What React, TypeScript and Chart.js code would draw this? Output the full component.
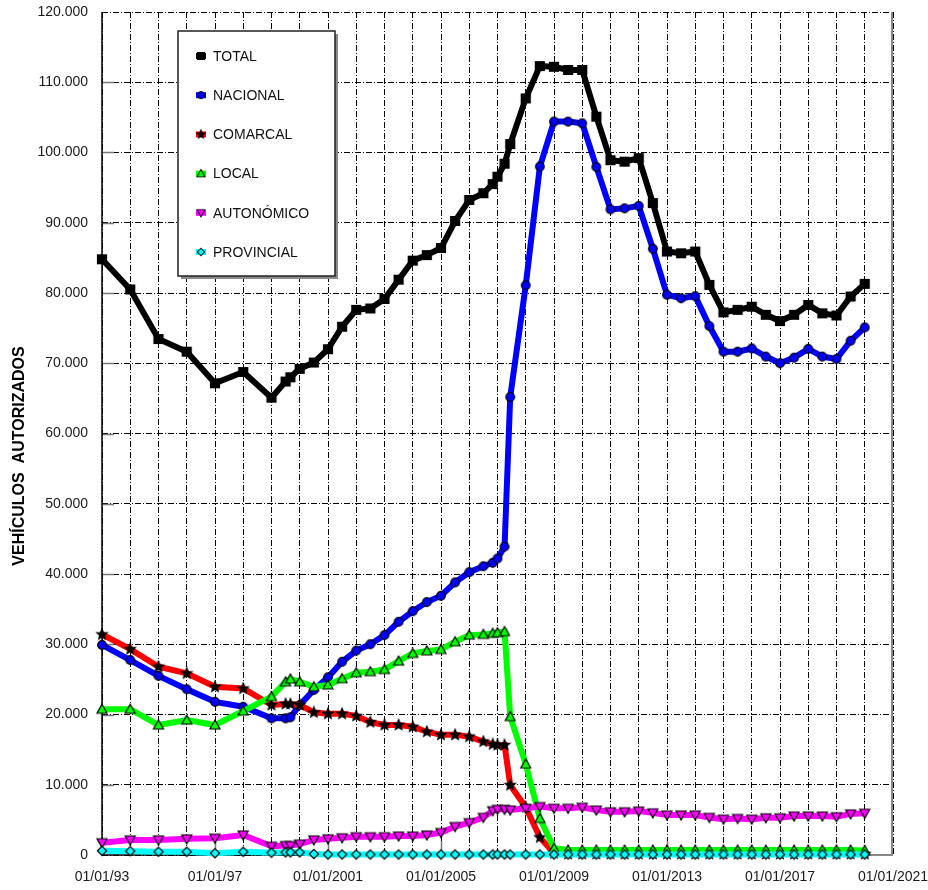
import React, { useEffect, useRef } from 'react';
import { Chart, registerables } from 'chart.js';

Chart.register(...registerables);

const FONT = '"Liberation Sans", Arial, Helvetica, sans-serif';

// Fechas (año decimal) de cada observación
const fechas = [
  1993, 1994, 1995, 1996, 1997, 1998, 1999, 1999.5, 1999.67,
  2000, 2000.5, 2001, 2001.5, 2002, 2002.5, 2003, 2003.5, 2004, 2004.5, 2005, 2005.5, 2006,
  2006.5, 2006.83, 2007, 2007.25, 2007.45,
  2008, 2008.5, 2009, 2009.5, 2010, 2010.5, 2011, 2011.5, 2012, 2012.5, 2013, 2013.5,
  2014, 2014.5, 2015, 2015.5, 2016, 2016.5, 2017, 2017.5, 2018, 2018.5, 2019, 2019.5, 2020,
];

const total = [
  84800, 80500, 73450, 71650, 67150, 68750, 65100, 67400, 68000,
  69200, 70100, 72000, 75200, 77600, 77800, 79150, 81900, 84600, 85400, 86400, 90250, 93240,
  94200, 95500, 96550, 98400, 101200,
  107700, 112300, 112200, 111750, 111750, 105100, 98900, 98700, 99200, 92800, 85900, 85650,
  85900, 81150, 77250, 77600, 78050, 76900, 76000, 76900, 78300, 77100, 76800, 79500, 81300,
];

const nacional = [
  29900, 27750, 25500, 23600, 21800, 21100, 19450, 19450, 19600,
  21350, 23500, 25300, 27500, 29100, 30000, 31300, 33200, 34700, 36000, 36900, 38800, 40250,
  41100, 41600, 42200, 43900, 65200,
  81100, 98000, 104400, 104400, 104150, 97950, 91900, 92050, 92400, 86300, 79750, 79250,
  79550, 75300, 71650, 71650, 72100, 70950, 70000, 70800, 72050, 70950, 70600, 73200, 75100,
];

const comarcal = [
  31400, 29300, 26800, 25850, 23950, 23700, 21350, 21500, 21500,
  21350, 20300, 20100, 20100, 19800, 18900, 18500, 18500, 18250, 17550, 17100, 17100, 16850,
  16150, 15750, 15650, 15650, 9950,
  6800, 2500, 250, 150, 150, 150, 150, 150, 150, 150, 150, 150,
  150, 150, 150, 150, 150, 150, 150, 150, 150, 150, 150, 150, 150,
];

const local = [
  20750, 20750, 18500, 19200, 18500, 20500, 22550, 24650, 25050,
  24650, 23950, 24200, 25100, 25950, 26100, 26400, 27600, 28700, 29050, 29250, 30350, 31300,
  31400, 31550, 31650, 31800, 19700,
  12950, 5200, 950, 700, 700, 700, 700, 700, 700, 700, 700, 700,
  700, 700, 700, 700, 700, 700, 700, 700, 700, 700, 700, 700, 650,
];

const autonomico = [
  1750, 2150, 2150, 2300, 2400, 2850, 1250, 1350, 1350,
  1550, 2150, 2300, 2450, 2600, 2600, 2600, 2700, 2700, 2850, 3200, 4050, 4600,
  5350, 6300, 6500, 6500, 6400,
  6650, 6900, 6650, 6650, 6800, 6400, 6150, 6150, 6250, 6000, 5700, 5700,
  5700, 5350, 5100, 5200, 5100, 5300, 5300, 5550, 5550, 5550, 5450, 5850, 5950,
];

const provincial = [
  600, 550, 470, 470, 250, 470, 330, 380, 380,
  380, 150, 80, 80, 80, 80, 80, 80, 80, 80, 80, 80, 80,
  80, 80, 80, 80, 80,
  80, 80, 80, 80, 80, 80, 80, 80, 80, 80, 80, 80,
  80, 80, 80, 80, 80, 80, 80, 80, 80, 80, 80, 80, 80,
];

const seriesNames = ['TOTAL', 'NACIONAL', 'COMARCAL', 'LOCAL', 'AUTONÓMICO', 'PROVINCIAL'];
const seriesValues = [total, nacional, comarcal, local, autonomico, provincial];
const seriesColors = ['#000000', '#0000ff', '#ff0000', '#00ff00', '#ff00ff', '#00ffff'];
const seriesMarkers = ['square', 'circle', 'star', 'tri', 'tridown', 'diamond'];
const xLabelYears = [1993, 1997, 2001, 2005, 2009, 2013, 2017, 2021];
const yTitle = 'VEHÍCULOS  AUTORIZADOS';

function fmtThousands(v: number): string {
  return String(Math.round(v)).replace(/\B(?=(\d{3})+(?!\d))/g, '.');
}
function fmtDate(y: number): string {
  return '01/01/' + (y < 2000 ? String(y).slice(2) : String(y));
}

function makeMarker(kind: string, fill: string): HTMLCanvasElement {
  const S = 14;
  const c = document.createElement('canvas');
  c.width = S;
  c.height = S;
  const g = c.getContext('2d')!;
  g.translate(S / 2, S / 2);
  g.fillStyle = fill;
  g.strokeStyle = '#000';
  g.lineWidth = 1.2;
  g.beginPath();
  if (kind === 'square') {
    g.rect(-4.5, -4.5, 9, 9);
  } else if (kind === 'circle') {
    g.arc(0, 0, 4.3, 0, Math.PI * 2);
  } else if (kind === 'star') {
    for (let i = 0; i < 10; i++) {
      const r = i % 2 === 0 ? 5.5 : 2.4;
      const a = -Math.PI / 2 + (i * Math.PI) / 5;
      const px = r * Math.cos(a);
      const py = r * Math.sin(a);
      if (i === 0) g.moveTo(px, py);
      else g.lineTo(px, py);
    }
    g.closePath();
  } else if (kind === 'tri') {
    g.moveTo(0, -5);
    g.lineTo(5, 4);
    g.lineTo(-5, 4);
    g.closePath();
  } else if (kind === 'tridown') {
    g.moveTo(0, 5);
    g.lineTo(5, -4);
    g.lineTo(-5, -4);
    g.closePath();
  } else {
    g.moveTo(0, -4.6);
    g.lineTo(4.6, 0);
    g.lineTo(0, 4.6);
    g.lineTo(-4.6, 0);
    g.closePath();
  }
  g.fill();
  g.stroke();
  return c;
}

export default function App() {
  const ref = useRef<HTMLCanvasElement | null>(null);

  useEffect(() => {
    document.body.style.margin = '0';
    const canvas = ref.current;
    if (!canvas) return;

    const markers = seriesMarkers.map((k, i) =>
      makeMarker(k, k === 'star' ? '#000' : k === 'square' ? '#000' : seriesColors[i])
    );

    const decorPlugin = {
      id: 'decor',
      beforeDatasetsDraw(chart: any) {
        const { ctx, chartArea } = chart;
        const { left, right, top, bottom } = chartArea;
        const xs = chart.scales.x;
        const ys = chart.scales.y;
        ctx.save();
        // inner tick marks
        ctx.strokeStyle = '#777';
        ctx.lineWidth = 1.5;
        for (let v = 10000; v < 120000; v += 10000) {
          const py = Math.round(ys.getPixelForValue(v)) + 0.5;
          ctx.beginPath();
          ctx.moveTo(left, py);
          ctx.lineTo(left + 12, py);
          ctx.stroke();
        }
        xLabelYears.forEach((yr) => {
          if (yr === 1993 || yr === 2021) return;
          const px = Math.round(xs.getPixelForValue(yr)) + 0.5;
          ctx.beginPath();
          ctx.moveTo(px, bottom);
          ctx.lineTo(px, bottom - 14);
          ctx.stroke();
        });
        // frame
        ctx.strokeStyle = '#888';
        ctx.lineWidth = 2;
        ctx.beginPath();
        ctx.moveTo(right - 1, top);
        ctx.lineTo(right - 1, bottom);
        ctx.lineTo(xs.getPixelForValue(2020), bottom);
        ctx.stroke();
        ctx.strokeStyle = '#000';
        ctx.lineWidth = 1.5;
        ctx.beginPath();
        ctx.moveTo(left, top);
        ctx.lineTo(left, bottom);
        ctx.lineTo(xs.getPixelForValue(2020), bottom);
        ctx.stroke();
        ctx.restore();
      },
      afterDraw(chart: any) {
        const { ctx } = chart;
        ctx.save();
        // y-axis title
        ctx.translate(20, 456);
        ctx.rotate(-Math.PI / 2);
        ctx.fillStyle = '#000';
        ctx.font = 'bold 16px ' + FONT;
        ctx.textAlign = 'center';
        ctx.textBaseline = 'middle';
        ctx.fillText(yTitle, 0, 0);
        ctx.restore();

        // legend box
        const bx = 178, by = 31, bw = 157, bh = 245;
        ctx.save();
        ctx.fillStyle = '#8a8a8a';
        ctx.fillRect(bx + 3, by + 3, bw, bh);
        ctx.fillStyle = '#fff';
        ctx.fillRect(bx, by, bw, bh);
        ctx.strokeStyle = '#222';
        ctx.lineWidth = 1.5;
        ctx.strokeRect(bx, by, bw, bh);
        ctx.font = '14px ' + FONT;
        ctx.textBaseline = 'middle';
        ctx.textAlign = 'left';
        chart.data.datasets.forEach((ds: any, i: number) => {
          const cy = 56 + i * 39.2;
          ctx.strokeStyle = seriesColors[i];
          ctx.lineWidth = 6;
          ctx.beginPath();
          ctx.moveTo(196, cy);
          ctx.lineTo(206, cy);
          ctx.stroke();
          const m = markers[i];
          ctx.save();
          ctx.translate(201, cy);
          ctx.scale(0.8, 0.8);
          ctx.drawImage(m, -m.width / 2, -m.height / 2);
          ctx.restore();
          ctx.fillStyle = '#111';
          ctx.fillText(ds.label, 213, cy + 1);
        });
        ctx.restore();
      },
    };

    const dash = [6, 2, 1, 2];

    const chart = new Chart(canvas, {
      type: 'line',
      data: {
        datasets: seriesNames.map((name, i) => ({
          label: name,
          data: fechas.map((f, j) => ({ x: f, y: seriesValues[i][j] })),
          borderColor: seriesColors[i],
          backgroundColor: seriesColors[i],
          borderWidth: 6,
          pointStyle: markers[i] as any,
          pointRadius: 5,
          tension: 0,
          fill: false,
          clip: 8,
          order: seriesNames.length - 1 - i,
        })),
      },
      options: {
        animation: false,
        responsive: false,
        maintainAspectRatio: false,
        events: [],
        layout: { padding: { top: 12, right: 35, left: 0, bottom: 0 } },
        plugins: { legend: { display: false }, tooltip: { enabled: false } },
        scales: {
          x: {
            type: 'linear',
            min: 1993,
            max: 2021,
            ticks: {
              stepSize: 1,
              autoSkip: false,
              maxRotation: 0,
              padding: 14,
              color: '#1a1a1a',
              font: { family: FONT, size: 14 },
              callback: (v: any) => (xLabelYears.includes(Number(v)) ? fmtDate(Number(v)) : ''),
            },
            grid: { color: '#000', lineWidth: 1, drawTicks: false },
            border: { display: false, dash },
            afterFit: (s: any) => {
              s.height = 35;
              s.paddingLeft = 0;
              s.paddingRight = 0;
            },
          },
          y: {
            min: 0,
            max: 120000,
            ticks: {
              stepSize: 10000,
              padding: 14,
              color: '#1a1a1a',
              font: { family: FONT, size: 14 },
              callback: (v: any) => fmtThousands(Number(v)),
            },
            grid: { color: '#000', lineWidth: 1, drawTicks: false },
            border: { display: false, dash },
            afterFit: (s: any) => {
              s.width = 102;
              s.paddingTop = 0;
              s.paddingBottom = 0;
            },
          },
        },
      },
      plugins: [decorPlugin],
    });

    return () => chart.destroy();
  }, []);

  return (
    <div style={{ width: 928, height: 890, overflow: 'hidden' }}>
      <canvas ref={ref} width={928} height={890} style={{ display: 'block' }} />
    </div>
  );
}
